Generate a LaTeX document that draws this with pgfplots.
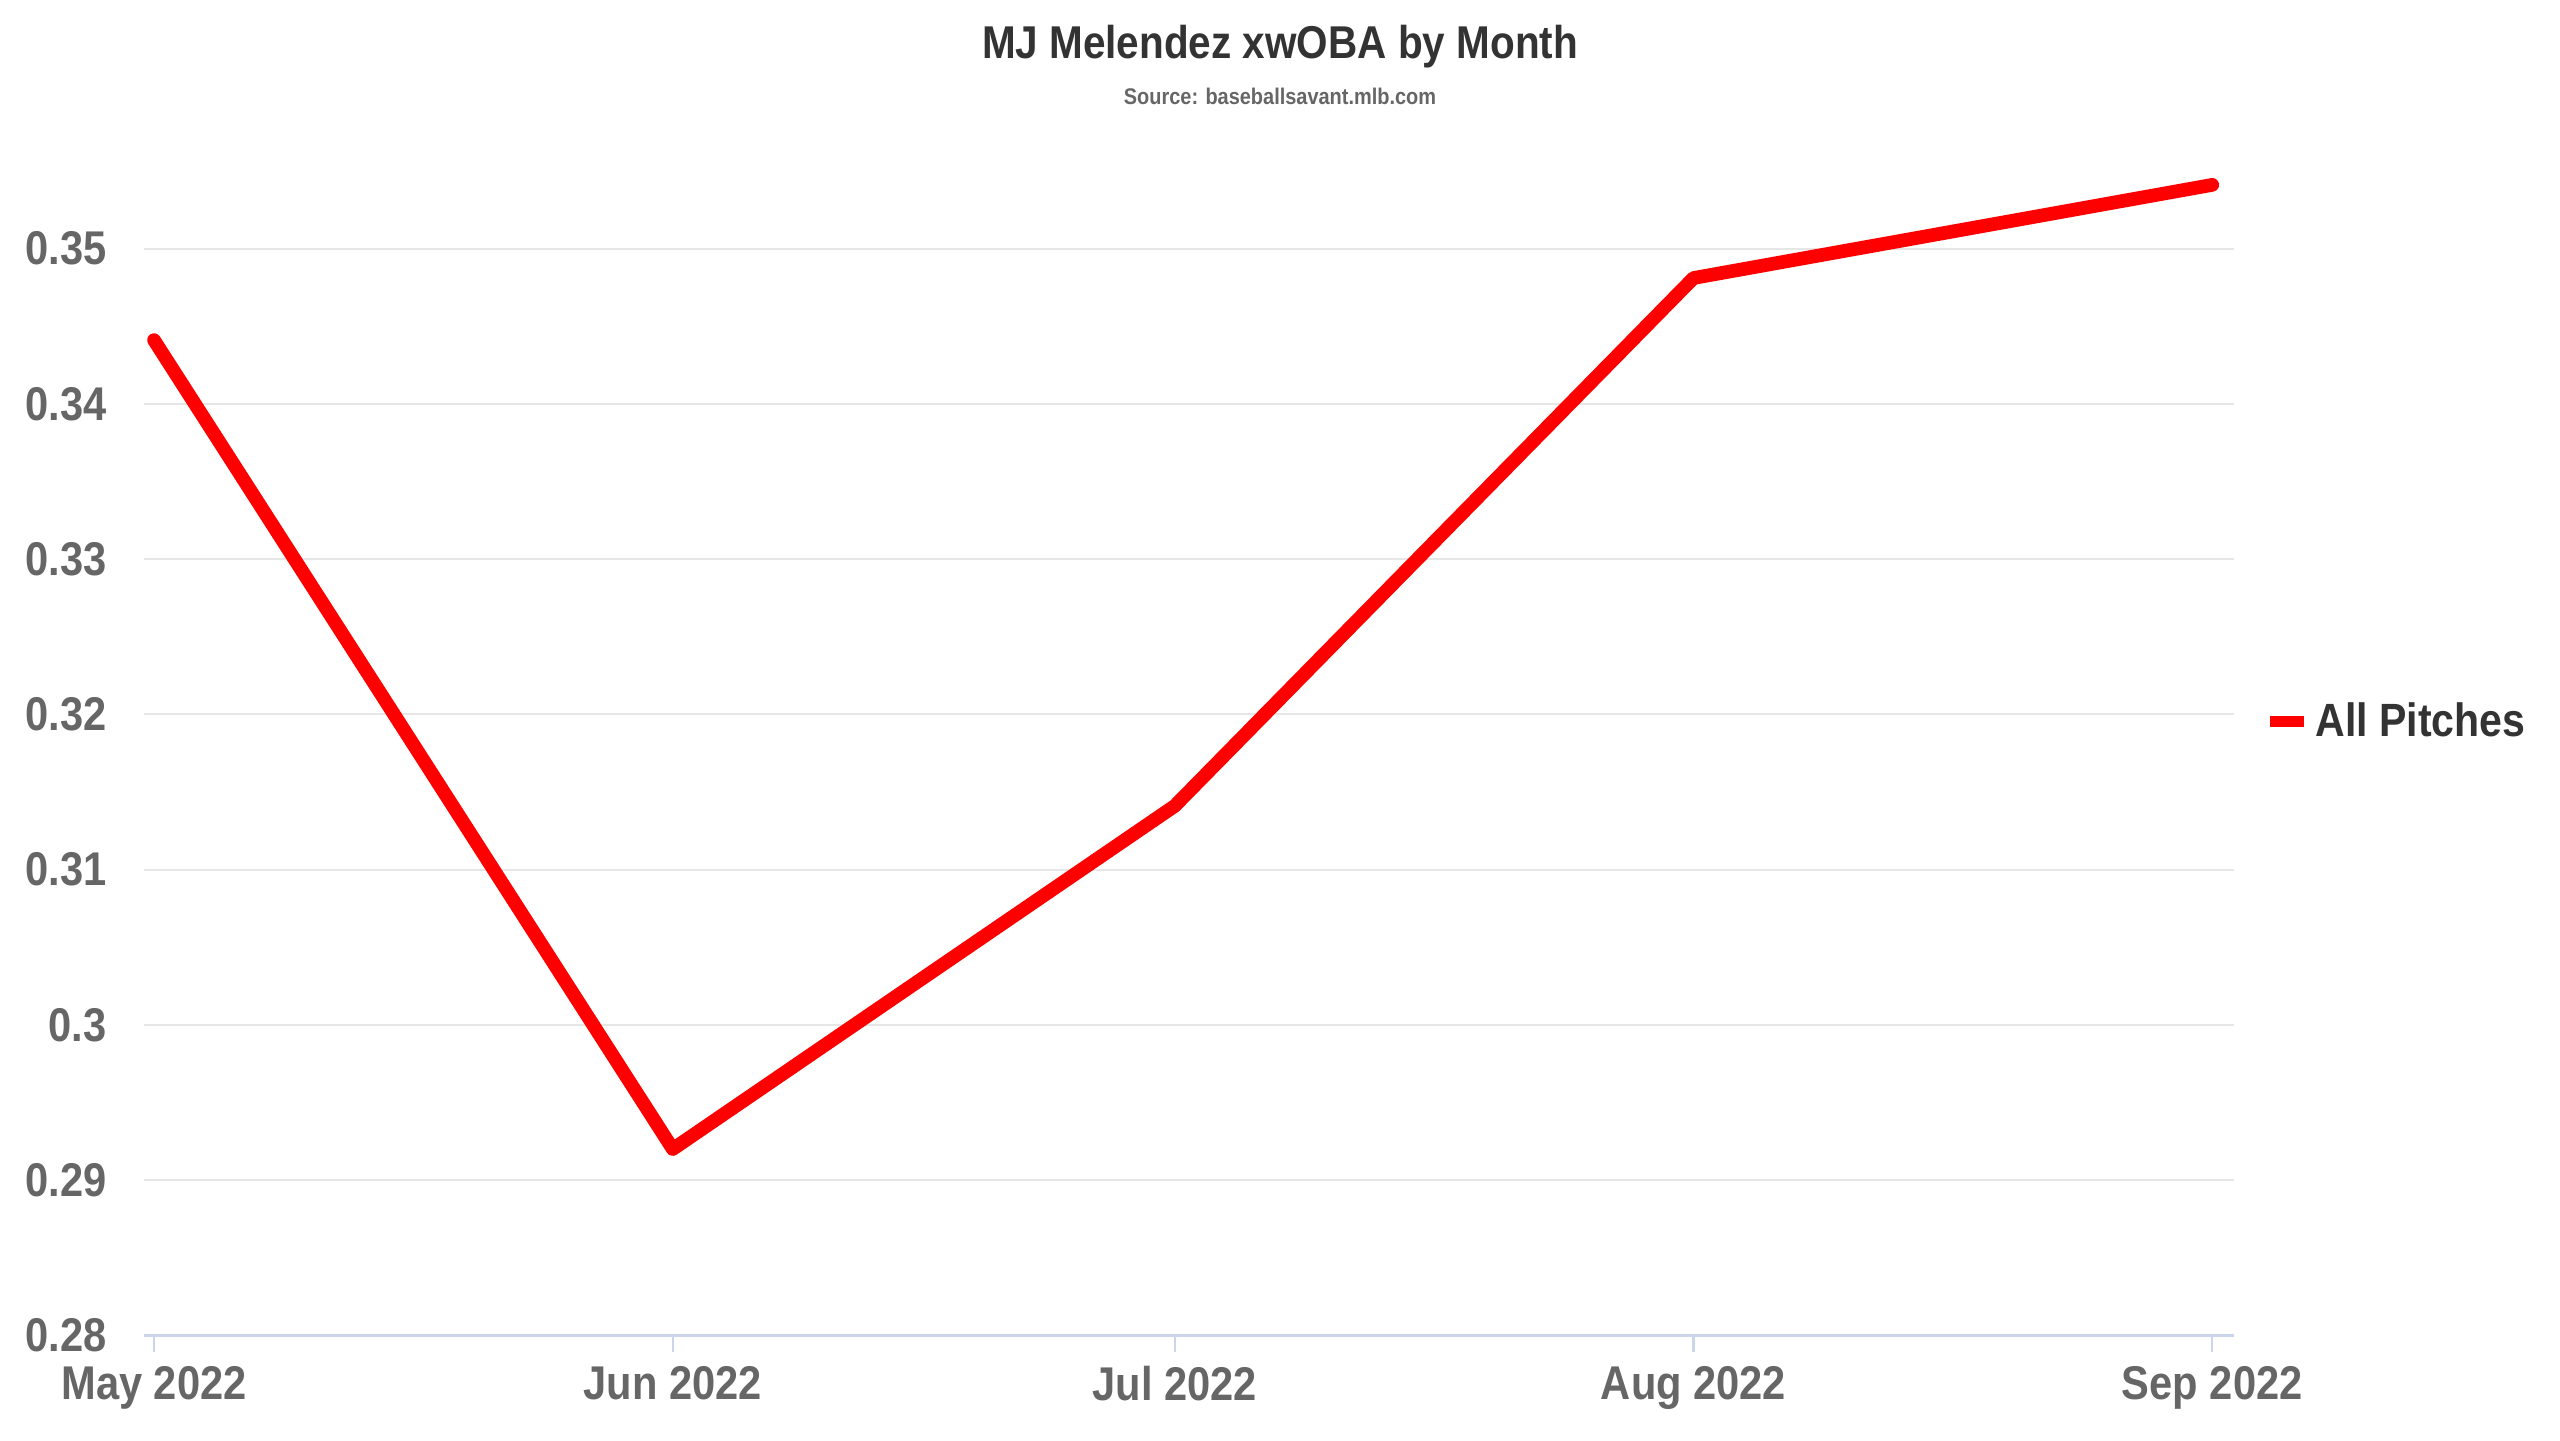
\documentclass[border=0pt]{standalone}
\usepackage{pgfplots}
\pgfplotsset{compat=1.18}
\usepackage{fontspec}
\setmainfont{Liberation Sans}[FakeStretch=0.88]
\definecolor{titlec}{HTML}{333333}
\definecolor{tickc}{HTML}{666666}
\definecolor{gridc}{HTML}{E6E6E6}
\definecolor{axisc}{HTML}{CCD6EB}
\definecolor{linec}{HTML}{FF0000}
\begin{document}
\begin{tikzpicture}
\useasboundingbox (0,0) rectangle (768pt,432pt);
\fill[white] (0,0) rectangle (768pt,432pt);
\node[anchor=base, text=titlec, font=\fontsize{13.8pt}{16pt}\selectfont\bfseries] at (384pt,414.5pt) {MJ Melendez xwOBA by Month};
\node[anchor=base, text=tickc, font=\fontsize{6.8pt}{8pt}\selectfont\bfseries] at (384pt,400.5pt) {Source: baseballsavant.mlb.com};
\begin{axis}[
  at={(43.2pt,31.4pt)}, anchor=south west,
  scale only axis, width=627pt, height=354pt,
  xmin=-0.6, xmax=124.3, ymin=0.28, ymax=0.356,
  axis x line*=bottom, axis y line*=left,
  x axis line style={draw=axisc, line width=0.7pt, -},
  y axis line style={draw=none},
  xtick={0,31,61,92,123},
  xticklabels={May 2022,Jun 2022,Jul 2022,Aug 2022,Sep 2022},
  ytick={0.28,0.29,0.30,0.31,0.32,0.33,0.34,0.35},
  yticklabels={0.28,0.29,0.3,0.31,0.32,0.33,0.34,0.35},
  xtick align=outside, major tick length=5pt,
  xtick style={draw=axisc, line width=0.7pt},
  ytick style={draw=none},
  ymajorgrids, grid style={draw=gridc, line width=0.6pt},
  xticklabel style={anchor=north, inner sep=0pt, yshift=-4pt, text=tickc, font=\fontsize{14.2pt}{16pt}\selectfont\bfseries},
  yticklabel style={anchor=east, inner sep=0pt, xshift=-11pt, text=tickc, font=\fontsize{14.2pt}{16pt}\selectfont\bfseries},
  legend style={at={(axis description cs:1.0145,0.52)}, anchor=west, draw=none, fill=none, inner sep=0pt,
    text=titlec, font=\fontsize{14pt}{16pt}\selectfont\bfseries},
  legend image code/.code={\draw[linec, line width=3.2pt, line cap=butt] (0pt,0pt) -- (10pt,0pt);},
  clip=false,
]
\addplot[linec, line width=4.1pt, line cap=round, line join=round] coordinates {
  (0,0.3441) (31,0.2920) (61,0.3141) (92,0.3481) (123,0.3541)
};
\addlegendentry{All Pitches}
\end{axis}
\end{tikzpicture}
\end{document}
